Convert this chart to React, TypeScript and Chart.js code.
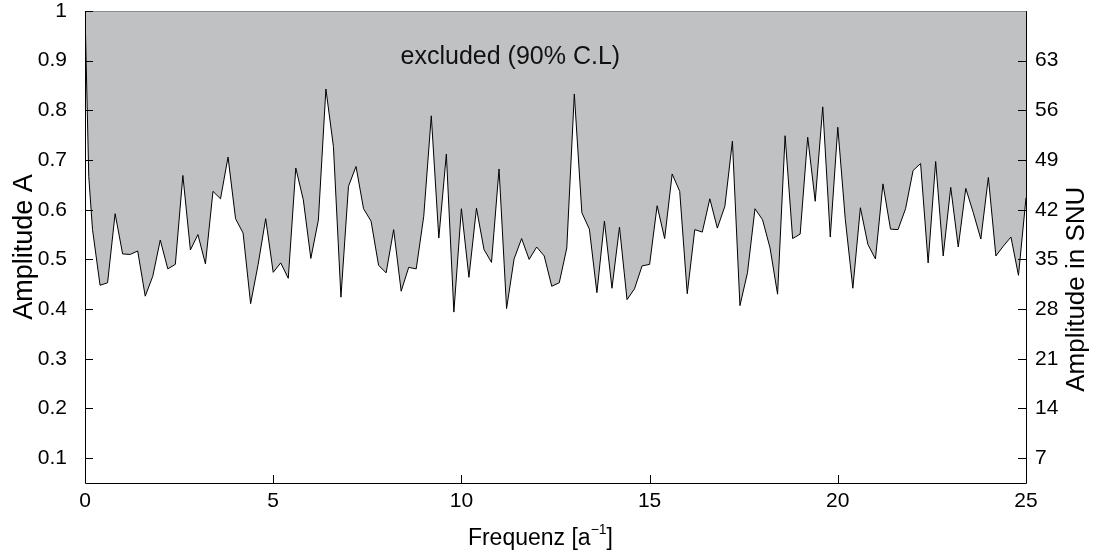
import React, { useEffect, useRef } from "react";
import { Chart, registerables } from "chart.js";

Chart.register(...registerables);

const FREQ = [
  0, 0.1, 0.2, 0.4, 0.6, 0.8, 1.0, 1.2, 1.4, 1.6, 1.8, 2.0, 2.2, 2.4, 2.6, 2.8, 3.0, 3.2, 3.4, 3.6,
  3.8, 4.0, 4.2, 4.4, 4.6, 4.8, 5.0, 5.2, 5.4, 5.6, 5.8, 6.0, 6.2, 6.4, 6.6, 6.8, 7.0,
  7.2, 7.4, 7.6, 7.8, 8.0, 8.2, 8.4, 8.6, 8.8, 9.0, 9.2, 9.4, 9.6, 9.8, 10.0, 10.2, 10.4, 10.6,
  10.8, 11.0, 11.2, 11.4, 11.6, 11.8, 12.0, 12.2, 12.4, 12.6, 12.8, 13.0, 13.2, 13.4, 13.6, 13.8, 14.0, 14.2,
  14.4, 14.6, 14.8, 15.0, 15.2, 15.4, 15.6, 15.8, 16.0, 16.2, 16.4, 16.6, 16.8, 17.0, 17.2, 17.4, 17.6, 17.8,
  18.0, 18.2, 18.4, 18.6, 18.8, 19.0, 19.2, 19.4, 19.6, 19.8, 20.0, 20.2, 20.4, 20.6, 20.8, 21.0, 21.2, 21.4,
  21.6, 21.8, 22.0, 22.2, 22.4, 22.6, 22.8, 23.0, 23.2, 23.4, 23.6, 23.8, 24.0, 24.2, 24.4, 24.6, 24.8, 25.0,
];

const AMPLITUDE = [
  1.0, 0.667, 0.56, 0.448, 0.453, 0.592, 0.511, 0.51, 0.517, 0.426, 0.466, 0.539, 0.481, 0.49, 0.669, 0.519, 0.55, 0.491, 0.637, 0.622,
  0.706, 0.582, 0.553, 0.411, 0.49, 0.582, 0.474, 0.493, 0.462, 0.684, 0.62, 0.502, 0.579, 0.843, 0.727, 0.424, 0.647,
  0.687, 0.602, 0.577, 0.488, 0.473, 0.56, 0.436, 0.484, 0.481, 0.587, 0.789, 0.543, 0.712, 0.394, 0.602, 0.464, 0.603, 0.52,
  0.494, 0.682, 0.401, 0.501, 0.542, 0.5, 0.525, 0.507, 0.446, 0.453, 0.523, 0.833, 0.594, 0.561, 0.433, 0.577, 0.442, 0.565,
  0.419, 0.441, 0.487, 0.49, 0.608, 0.542, 0.672, 0.637, 0.431, 0.56, 0.555, 0.622, 0.563, 0.607, 0.738, 0.407, 0.473, 0.602,
  0.58, 0.523, 0.43, 0.749, 0.542, 0.551, 0.746, 0.617, 0.807, 0.545, 0.766, 0.58, 0.442, 0.604, 0.53, 0.501, 0.652, 0.561,
  0.56, 0.602, 0.679, 0.693, 0.493, 0.697, 0.507, 0.645, 0.525, 0.643, 0.594, 0.541, 0.665, 0.507, 0.527, 0.545, 0.468, 0.624,
];

const X_TICKS = [0, 5, 10, 15, 20, 25];
const Y_TICKS = [0.1, 0.2, 0.3, 0.4, 0.5, 0.6, 0.7, 0.8, 0.9, 1];
const SNU_TICKS = [7, 14, 21, 28, 35, 42, 49, 56, 63];

const ANNOTATION = "excluded (90% C.L)";
const X_TITLE_BASE = "Frequenz [a";
const X_TITLE_SUP = "−1";
const X_TITLE_END = "]";
const Y2_TITLE = "Amplitude in SNU";
const FONT = "'Liberation Sans', Arial, Helvetica, sans-serif";

const frame = {
  id: "frame",
  afterDraw(chart: any) {
    const { ctx, chartArea: a, scales } = chart;
    ctx.save();
    ctx.strokeStyle = "#8c8c8c";
    ctx.lineWidth = 1;
    ctx.beginPath();
    ctx.moveTo(a.left, a.top + 0.5);
    ctx.lineTo(a.right, a.top + 0.5);
    ctx.stroke();
    ctx.strokeStyle = "#000";
    ctx.beginPath();
    ctx.moveTo(a.left + 0.5, a.top);
    ctx.lineTo(a.left + 0.5, a.bottom + 0.5);
    ctx.lineTo(a.right + 0.5, a.bottom + 0.5);
    ctx.lineTo(a.right + 0.5, a.top);
    ctx.stroke();
    const L = 8;
    ctx.beginPath();
    for (const v of Y_TICKS) {
      const y = Math.round(scales.y.getPixelForValue(v)) + 0.5;
      ctx.moveTo(a.left, y);
      ctx.lineTo(a.left + L, y);
    }
    for (const v of SNU_TICKS) {
      const y = Math.round(scales.y2.getPixelForValue(v)) + 0.5;
      ctx.moveTo(a.right, y);
      ctx.lineTo(a.right - L, y);
    }
    for (const v of X_TICKS) {
      const x = Math.round(scales.x.getPixelForValue(v)) + 0.5;
      ctx.moveTo(x, a.bottom);
      ctx.lineTo(x, a.bottom - L);
    }
    ctx.stroke();
    // annotation
    ctx.fillStyle = "#111";
    ctx.font = `25px ${FONT}`;
    ctx.textAlign = "center";
    ctx.textBaseline = "middle";
    ctx.fillText(ANNOTATION, scales.x.getPixelForValue(11.3), scales.y.getPixelForValue(0.907));
    // right title
    ctx.fillStyle = "#000";
    ctx.save();
    ctx.font = `26px ${FONT}`;
    ctx.translate(1077, scales.y2.getPixelForValue(30.8));
    ctx.rotate(-Math.PI / 2);
    ctx.fillText(Y2_TITLE, 0, 0);
    ctx.restore();
    // x title with superscript
    ctx.textAlign = "left";
    ctx.textBaseline = "alphabetic";
    const big = `23px ${FONT}`;
    const small = `14px ${FONT}`;
    ctx.font = big;
    const w1 = ctx.measureText(X_TITLE_BASE).width;
    const w3 = ctx.measureText(X_TITLE_END).width;
    ctx.font = small;
    const w2 = ctx.measureText(X_TITLE_SUP).width;
    const total = w1 + w2 + w3;
    const cx = scales.x.getPixelForValue(12.1);
    const base = a.bottom + 62;
    const x0 = cx - total / 2;
    ctx.font = big;
    ctx.fillText(X_TITLE_BASE, x0, base);
    ctx.font = small;
    ctx.fillText(X_TITLE_SUP, x0 + w1, base - 11);
    ctx.font = big;
    ctx.fillText(X_TITLE_END, x0 + w1 + w2, base);
    ctx.restore();
  },
};

export default function App() {
  const ref = useRef<HTMLCanvasElement | null>(null);
  useEffect(() => {
    if (!ref.current) return;
    const data = FREQ.map((f, i) => ({ x: f, y: AMPLITUDE[i] }));
    const tickFont = { family: FONT, size: 21, lineHeight: 1 };
    const titleFont = { family: FONT, size: 27, lineHeight: 1 };
    const chart = new Chart(ref.current, {
      type: "line",
      data: {
        datasets: [
          {
            data,
            borderColor: "#000",
            borderWidth: 1,
            backgroundColor: "#c0c1c3",
            fill: "end",
            pointRadius: 0,
            tension: 0,
            yAxisID: "y",
          },
        ],
      },
      plugins: [frame],
      options: {
        animation: false,
        responsive: true,
        maintainAspectRatio: false,
        layout: { padding: { top: 11, left: 0, right: 0, bottom: 0 } },
        plugins: { legend: { display: false }, tooltip: { enabled: false } },
        scales: {
          x: {
            type: "linear",
            min: 0,
            max: 25,
            grid: { display: false, drawTicks: false },
            border: { display: false },
            afterBuildTicks: (s: any) => {
              s.ticks = X_TICKS.map((v) => ({ value: v }));
            },
            afterFit: (s: any) => {
              s.height = 71;
              s.paddingLeft = 0;
              s.paddingRight = 0;
            },
            ticks: { color: "#000", font: tickFont, padding: 8, maxRotation: 0, autoSkip: false },
            title: { display: false },
          },
          y: {
            type: "linear",
            position: "left",
            min: 0.05,
            max: 1,
            grid: { display: false, drawTicks: false },
            border: { display: false },
            afterBuildTicks: (s: any) => {
              s.ticks = Y_TICKS.map((v) => ({ value: v }));
            },
            afterFit: (s: any) => {
              s.width = 85;
              s.paddingTop = 0;
              s.paddingBottom = 0;
            },
            ticks: {
              color: "#000",
              font: tickFont,
              padding: 18,
              callback: (v: any) => String(Number(Number(v).toFixed(1))),
            },
            title: {
              display: true,
              text: "Amplitude A",
              color: "#000",
              font: titleFont,
              padding: { top: 11, bottom: 0 },
            },
          },
          y2: {
            type: "linear",
            position: "right",
            min: 3.5,
            max: 70,
            grid: { display: false, drawTicks: false },
            border: { display: false },
            afterBuildTicks: (s: any) => {
              s.ticks = SNU_TICKS.map((v) => ({ value: v }));
            },
            afterFit: (s: any) => {
              s.width = 77;
              s.paddingTop = 0;
              s.paddingBottom = 0;
            },
            ticks: { color: "#000", font: tickFont, padding: 9 },
            title: { display: false },
          },
        },
      },
    } as any);
    return () => chart.destroy();
  }, []);
  return (
    <div style={{ position: "fixed", left: 0, top: 0, width: 1103, height: 554, background: "#fff" }}>
      <canvas ref={ref} />
    </div>
  );
}
